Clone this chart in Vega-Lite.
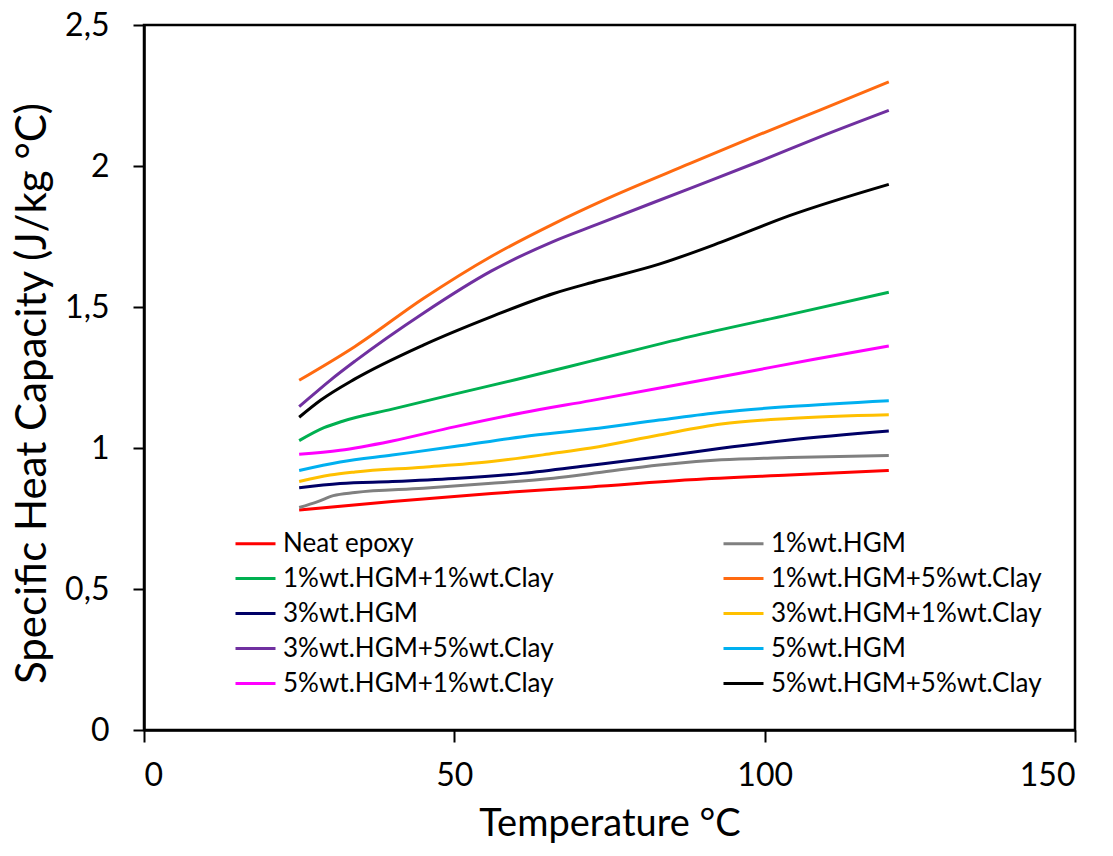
{
  "$schema": "https://vega.github.io/schema/vega-lite/v6.json",
  "width": 931,
  "height": 705,
  "autosize": {"type": "none"},
  "padding": {"left": 144, "top": 25, "right": 38, "bottom": 126},
  "background": "white",
  "config": {
    "font": "Lato",
    "view": {"stroke": "black", "strokeWidth": 2.5},
    "axis": {
      "domainColor": "black",
      "domainWidth": 2.5,
      "tickColor": "black",
      "tickWidth": 2,
      "grid": false,
      "labelFont": "Lato",
      "titleFont": "Lato",
      "labelColor": "black",
      "titleColor": "black",
      "titleFontWeight": "normal"
    }
  },
  "data": {
    "values": [
      {"sample": "Neat epoxy", "temp": 25, "cp": 0.78},
      {"sample": "Neat epoxy", "temp": 40, "cp": 0.81},
      {"sample": "Neat epoxy", "temp": 56, "cp": 0.839},
      {"sample": "Neat epoxy", "temp": 72, "cp": 0.862},
      {"sample": "Neat epoxy", "temp": 88, "cp": 0.887},
      {"sample": "Neat epoxy", "temp": 104, "cp": 0.904},
      {"sample": "Neat epoxy", "temp": 120, "cp": 0.92},

      {"sample": "1%wt.HGM", "temp": 25, "cp": 0.789},
      {"sample": "1%wt.HGM", "temp": 28, "cp": 0.81},
      {"sample": "1%wt.HGM", "temp": 30.5, "cp": 0.831},
      {"sample": "1%wt.HGM", "temp": 34, "cp": 0.842},
      {"sample": "1%wt.HGM", "temp": 45, "cp": 0.857},
      {"sample": "1%wt.HGM", "temp": 56, "cp": 0.875},
      {"sample": "1%wt.HGM", "temp": 66, "cp": 0.893},
      {"sample": "1%wt.HGM", "temp": 73, "cp": 0.912},
      {"sample": "1%wt.HGM", "temp": 83, "cp": 0.94},
      {"sample": "1%wt.HGM", "temp": 93, "cp": 0.958},
      {"sample": "1%wt.HGM", "temp": 104, "cp": 0.966},
      {"sample": "1%wt.HGM", "temp": 120, "cp": 0.973},

      {"sample": "1%wt.HGM+1%wt.Clay", "temp": 25, "cp": 1.026},
      {"sample": "1%wt.HGM+1%wt.Clay", "temp": 29, "cp": 1.072},
      {"sample": "1%wt.HGM+1%wt.Clay", "temp": 32, "cp": 1.095},
      {"sample": "1%wt.HGM+1%wt.Clay", "temp": 40, "cp": 1.138},
      {"sample": "1%wt.HGM+1%wt.Clay", "temp": 50, "cp": 1.191},
      {"sample": "1%wt.HGM+1%wt.Clay", "temp": 60, "cp": 1.243},
      {"sample": "1%wt.HGM+1%wt.Clay", "temp": 72, "cp": 1.308},
      {"sample": "1%wt.HGM+1%wt.Clay", "temp": 88, "cp": 1.395},
      {"sample": "1%wt.HGM+1%wt.Clay", "temp": 104, "cp": 1.473},
      {"sample": "1%wt.HGM+1%wt.Clay", "temp": 120, "cp": 1.552},

      {"sample": "1%wt.HGM+5%wt.Clay", "temp": 25, "cp": 1.24},
      {"sample": "1%wt.HGM+5%wt.Clay", "temp": 34, "cp": 1.36},
      {"sample": "1%wt.HGM+5%wt.Clay", "temp": 45, "cp": 1.53},
      {"sample": "1%wt.HGM+5%wt.Clay", "temp": 56, "cp": 1.68},
      {"sample": "1%wt.HGM+5%wt.Clay", "temp": 66, "cp": 1.795},
      {"sample": "1%wt.HGM+5%wt.Clay", "temp": 74, "cp": 1.878},
      {"sample": "1%wt.HGM+5%wt.Clay", "temp": 88, "cp": 2.009},
      {"sample": "1%wt.HGM+5%wt.Clay", "temp": 99, "cp": 2.11},
      {"sample": "1%wt.HGM+5%wt.Clay", "temp": 109, "cp": 2.199},
      {"sample": "1%wt.HGM+5%wt.Clay", "temp": 120, "cp": 2.298},

      {"sample": "3%wt.HGM", "temp": 25, "cp": 0.859},
      {"sample": "3%wt.HGM", "temp": 31.6, "cp": 0.874},
      {"sample": "3%wt.HGM", "temp": 40, "cp": 0.881},
      {"sample": "3%wt.HGM", "temp": 50, "cp": 0.892},
      {"sample": "3%wt.HGM", "temp": 61, "cp": 0.91},
      {"sample": "3%wt.HGM", "temp": 72, "cp": 0.939},
      {"sample": "3%wt.HGM", "temp": 83, "cp": 0.969},
      {"sample": "3%wt.HGM", "temp": 93, "cp": 0.999},
      {"sample": "3%wt.HGM", "temp": 104, "cp": 1.028},
      {"sample": "3%wt.HGM", "temp": 120, "cp": 1.06},

      {"sample": "3%wt.HGM+1%wt.Clay", "temp": 25, "cp": 0.881},
      {"sample": "3%wt.HGM+1%wt.Clay", "temp": 30, "cp": 0.904},
      {"sample": "3%wt.HGM+1%wt.Clay", "temp": 34, "cp": 0.915},
      {"sample": "3%wt.HGM+1%wt.Clay", "temp": 45, "cp": 0.932},
      {"sample": "3%wt.HGM+1%wt.Clay", "temp": 56, "cp": 0.952},
      {"sample": "3%wt.HGM+1%wt.Clay", "temp": 66, "cp": 0.981},
      {"sample": "3%wt.HGM+1%wt.Clay", "temp": 72, "cp": 1.0},
      {"sample": "3%wt.HGM+1%wt.Clay", "temp": 83, "cp": 1.046},
      {"sample": "3%wt.HGM+1%wt.Clay", "temp": 93, "cp": 1.085},
      {"sample": "3%wt.HGM+1%wt.Clay", "temp": 104, "cp": 1.105},
      {"sample": "3%wt.HGM+1%wt.Clay", "temp": 120, "cp": 1.118},

      {"sample": "3%wt.HGM+5%wt.Clay", "temp": 25, "cp": 1.147},
      {"sample": "3%wt.HGM+5%wt.Clay", "temp": 26.5, "cp": 1.175},
      {"sample": "3%wt.HGM+5%wt.Clay", "temp": 30, "cp": 1.24},
      {"sample": "3%wt.HGM+5%wt.Clay", "temp": 34, "cp": 1.308},
      {"sample": "3%wt.HGM+5%wt.Clay", "temp": 45, "cp": 1.478},
      {"sample": "3%wt.HGM+5%wt.Clay", "temp": 56, "cp": 1.628},
      {"sample": "3%wt.HGM+5%wt.Clay", "temp": 66, "cp": 1.733},
      {"sample": "3%wt.HGM+5%wt.Clay", "temp": 73, "cp": 1.793},
      {"sample": "3%wt.HGM+5%wt.Clay", "temp": 88, "cp": 1.921},
      {"sample": "3%wt.HGM+5%wt.Clay", "temp": 99, "cp": 2.015},
      {"sample": "3%wt.HGM+5%wt.Clay", "temp": 109, "cp": 2.104},
      {"sample": "3%wt.HGM+5%wt.Clay", "temp": 120, "cp": 2.197},

      {"sample": "5%wt.HGM", "temp": 25, "cp": 0.92},
      {"sample": "5%wt.HGM", "temp": 31.6, "cp": 0.95},
      {"sample": "5%wt.HGM", "temp": 40, "cp": 0.975},
      {"sample": "5%wt.HGM", "temp": 50, "cp": 1.005},
      {"sample": "5%wt.HGM", "temp": 61, "cp": 1.04},
      {"sample": "5%wt.HGM", "temp": 72, "cp": 1.067},
      {"sample": "5%wt.HGM", "temp": 83, "cp": 1.099},
      {"sample": "5%wt.HGM", "temp": 93, "cp": 1.127},
      {"sample": "5%wt.HGM", "temp": 104, "cp": 1.147},
      {"sample": "5%wt.HGM", "temp": 120, "cp": 1.168},

      {"sample": "5%wt.HGM+1%wt.Clay", "temp": 25, "cp": 0.978},
      {"sample": "5%wt.HGM+1%wt.Clay", "temp": 31.6, "cp": 0.992},
      {"sample": "5%wt.HGM+1%wt.Clay", "temp": 40, "cp": 1.025},
      {"sample": "5%wt.HGM+1%wt.Clay", "temp": 50, "cp": 1.075},
      {"sample": "5%wt.HGM+1%wt.Clay", "temp": 61, "cp": 1.125},
      {"sample": "5%wt.HGM+1%wt.Clay", "temp": 72, "cp": 1.168},
      {"sample": "5%wt.HGM+1%wt.Clay", "temp": 84, "cp": 1.216},
      {"sample": "5%wt.HGM+1%wt.Clay", "temp": 96, "cp": 1.265},
      {"sample": "5%wt.HGM+1%wt.Clay", "temp": 108, "cp": 1.315},
      {"sample": "5%wt.HGM+1%wt.Clay", "temp": 120, "cp": 1.362},

      {"sample": "5%wt.HGM+5%wt.Clay", "temp": 25, "cp": 1.109},
      {"sample": "5%wt.HGM+5%wt.Clay", "temp": 28.5, "cp": 1.17},
      {"sample": "5%wt.HGM+5%wt.Clay", "temp": 34, "cp": 1.245},
      {"sample": "5%wt.HGM+5%wt.Clay", "temp": 45, "cp": 1.365},
      {"sample": "5%wt.HGM+5%wt.Clay", "temp": 56, "cp": 1.466},
      {"sample": "5%wt.HGM+5%wt.Clay", "temp": 66, "cp": 1.548},
      {"sample": "5%wt.HGM+5%wt.Clay", "temp": 73, "cp": 1.592},
      {"sample": "5%wt.HGM+5%wt.Clay", "temp": 83, "cp": 1.652},
      {"sample": "5%wt.HGM+5%wt.Clay", "temp": 93, "cp": 1.73},
      {"sample": "5%wt.HGM+5%wt.Clay", "temp": 104, "cp": 1.824},
      {"sample": "5%wt.HGM+5%wt.Clay", "temp": 120, "cp": 1.935}
    ]
  },
  "mark": {"type": "line", "interpolate": "monotone", "strokeWidth": 3},
  "encoding": {
    "x": {
      "field": "temp",
      "type": "quantitative",
      "scale": {"domain": [0, 150], "nice": false, "zero": false},
      "axis": {
        "values": [0, 50, 100, 150],
        "title": "Temperature °C",
        "titleFontSize": 38,
        "titlePadding": 14,
        "labelFontSize": 32,
        "labelPadding": 18,
        "tickSize": 12
      }
    },
    "y": {
      "field": "cp",
      "type": "quantitative",
      "scale": {"domain": [0, 2.5], "nice": false},
      "axis": {
        "values": [0, 0.5, 1, 1.5, 2, 2.5],
        "labelExpr": "replace(format(datum.value, '.1~f'), '.', ',')",
        "title": "Specific Heat Capacity (J/kg °C)",
        "titleFontSize": 42,
        "titlePadding": 10,
        "titleY": 368,
        "labelFontSize": 32,
        "labelPadding": 24,
        "tickSize": 11
      }
    },
    "color": {
      "field": "sample",
      "type": "nominal",
      "scale": {
        "domain": [
          "Neat epoxy", "1%wt.HGM+1%wt.Clay", "3%wt.HGM",
          "3%wt.HGM+5%wt.Clay", "5%wt.HGM+1%wt.Clay",
          "1%wt.HGM", "1%wt.HGM+5%wt.Clay", "3%wt.HGM+1%wt.Clay",
          "5%wt.HGM", "5%wt.HGM+5%wt.Clay"
        ],
        "range": [
          "#FF0000", "#00B050", "#000066",
          "#7030A0", "#FF00FF",
          "#808080", "#FF6A10", "#FFC000",
          "#00B0F0", "#000000"
        ]
      },
      "legend": {
        "title": null,
        "orient": "none",
        "legendX": 90,
        "legendY": 497,
        "columns": 2,
        "columnPadding": 163,
        "rowPadding": 0,
        "symbolType": "stroke",
        "symbolSize": 1600,
        "symbolStrokeWidth": 3,
        "labelFontSize": 26,
        "labelColor": "black",
        "labelOffset": 6,
        "labelLimit": 400
      }
    }
  }
}
